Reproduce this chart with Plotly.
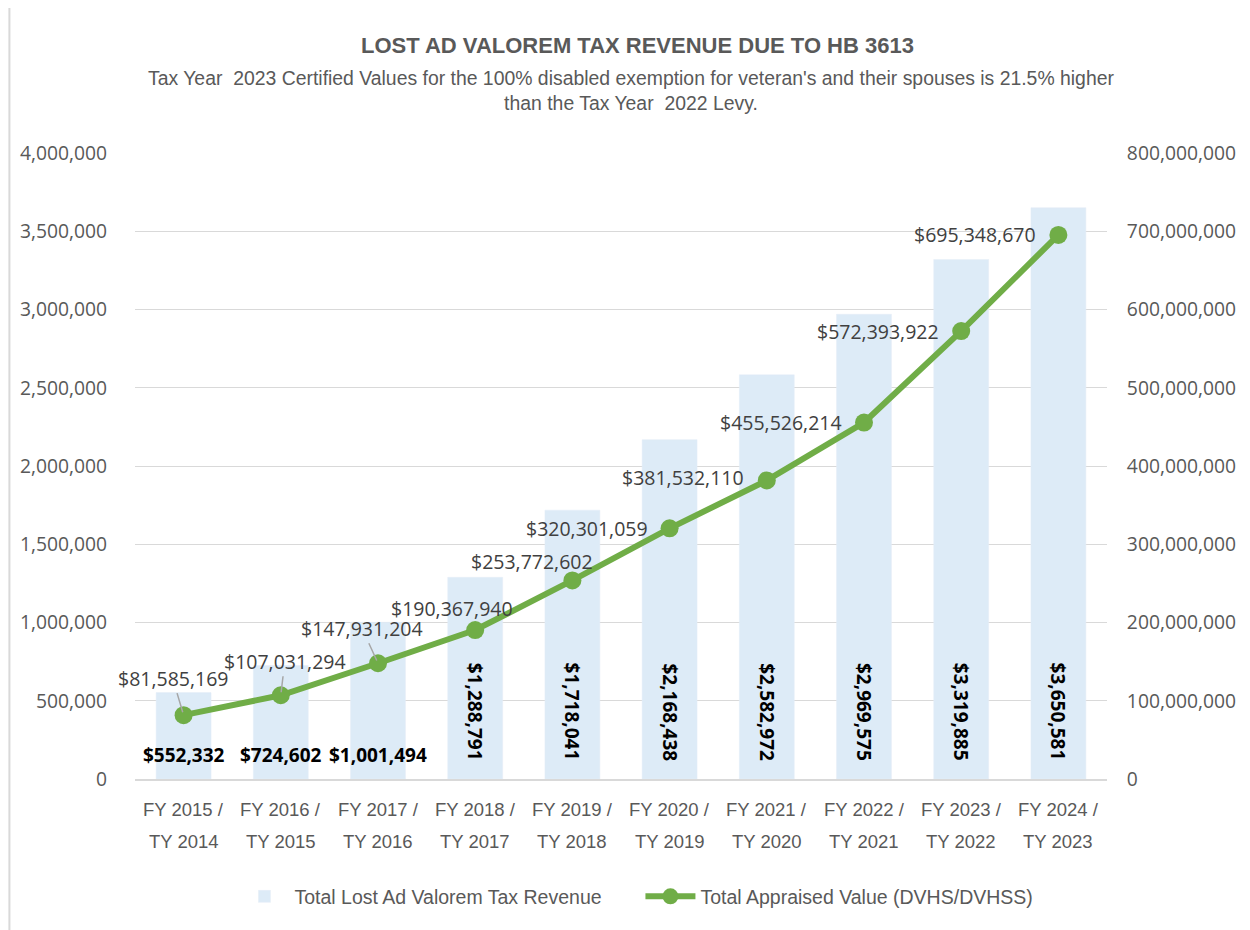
import plotly.graph_objects as go

categories = ["FY 2015 /<br>TY 2014", "FY 2016 /<br>TY 2015", "FY 2017 /<br>TY 2016",
              "FY 2018 /<br>TY 2017", "FY 2019 /<br>TY 2018", "FY 2020 /<br>TY 2019",
              "FY 2021 /<br>TY 2020", "FY 2022 /<br>TY 2021", "FY 2023 /<br>TY 2022",
              "FY 2024 /<br>TY 2023"]
lost_revenue = [552332, 724602, 1001494, 1288791, 1718041, 2168438, 2582972, 2969575, 3319885, 3650581]
appraised_value = [81585169, 107031294, 147931204, 190367940, 253772602, 320301059,
                   381532110, 455526214, 572393922, 695348670]
bar_name = "Total Lost Ad Valorem Tax Revenue"
line_name = "Total Appraised Value (DVHS/DVHSS)"
title_text = "LOST AD VALOREM TAX REVENUE DUE TO HB 3613"
subtitle_text = ("Tax Year  2023 Certified Values for the 100% disabled exemption for veteran's and their spouses is 21.5% higher"
                 "<br>than the Tax Year  2022 Levy.")

NARROW = "Liberation Sans Narrow, Arial Narrow, Liberation Sans, Arial, sans-serif"
NORMAL = "Open Sans, Noto Sans, sans-serif"
GRAY = "#595959"

x = list(range(len(categories)))

fig = go.Figure()
fig.add_trace(go.Bar(x=x, y=lost_revenue, name=bar_name, marker_color="#DDEBF7",
                     width=0.565, yaxis="y"))
fig.add_trace(go.Scatter(x=x, y=appraised_value, name=line_name, mode="lines+markers",
                         line=dict(color="#70AD47", width=6),
                         marker=dict(color="#70AD47", size=18), yaxis="y2"))

annotations = []
# category labels (two lines each)
for i, c in enumerate(categories):
    first, second = c.split("<br>")
    annotations.append(dict(x=i, y=-0.0495, xref="x", yref="paper", text=first, showarrow=False,
                            xanchor="center", yanchor="middle",
                            font=dict(family=NARROW, size=18.5, color=GRAY)))
    annotations.append(dict(x=i, y=-0.1006, xref="x", yref="paper", text=second, showarrow=False,
                            xanchor="center", yanchor="middle",
                            font=dict(family=NARROW, size=18.5, color=GRAY)))

# bar labels
for i, v in enumerate(lost_revenue):
    txt = "<b>${:,}</b>".format(v)
    if i < 3:
        annotations.append(dict(x=i, y=0, xref="x", yref="y", text=txt, showarrow=False,
                                yanchor="middle", yshift=24,
                                font=dict(family=NORMAL, size=19, color="#000000")))
    else:
        annotations.append(dict(x=i, y=0, xref="x", yref="y", text=txt, showarrow=False,
                                textangle=90, yanchor="bottom", yshift=16,
                                font=dict(family=NORMAL, size=19, color="#000000")))

# line labels (pixel offsets of label centre from point)
label_offsets = [(-11, -37), (4, -34), (-16, -35), (-23, -22), (-40, -19),
                 (-83, 0), (-84, -3), (-83, 0), (-83, 0), (-83, 0)]
for i, v in enumerate(appraised_value):
    dx, dy = label_offsets[i]
    txt = "${:,}".format(v)
    if i < 3:
        annotations.append(dict(x=i, y=v, xref="x", yref="y2", text=txt, showarrow=True,
                                ax=dx, ay=dy, arrowhead=0, arrowwidth=1.5, arrowcolor="#A6A6A6",
                                standoff=3,
                                font=dict(family=NORMAL, size=19.5, color="#404040")))
    else:
        annotations.append(dict(x=i, y=v, xref="x", yref="y2", text=txt, showarrow=False,
                                xshift=dx, yshift=-dy,
                                font=dict(family=NORMAL, size=19.5, color="#404040")))

annotations.append(dict(x=0.517, y=1.171, xref="paper", yref="paper", text="<b>" + title_text + "</b>",
                        showarrow=False, xanchor="center", yanchor="middle",
                        font=dict(family=NARROW, size=22, color=GRAY)))
annotations.append(dict(x=0.510, y=1.100, xref="paper", yref="paper", text=subtitle_text,
                        showarrow=False, xanchor="center", yanchor="middle",
                        font=dict(family=NARROW, size=19.4, color=GRAY)))

fig.update_layout(
    width=1250, height=930,
    margin=dict(l=125, r=151, t=145, b=159),
    paper_bgcolor="white", plot_bgcolor="white",
    showlegend=True,
    legend=dict(orientation="h", x=0.520, xanchor="center", y=-0.188, yanchor="middle",
                font=dict(family=NARROW, size=19.5, color=GRAY), itemwidth=50,
                entrywidth=341, entrywidthmode="pixels",
                bgcolor="rgba(0,0,0,0)"),
    xaxis=dict(tickmode="array", tickvals=x, ticktext=categories, range=[-0.5, 9.5],
               showticklabels=False,
               showline=True, linecolor="#D9D9D9", linewidth=1.5, ticks="", showgrid=False),
    yaxis=dict(range=[0, 4000000], dtick=500000, tickformat=",", showgrid=True,
               gridcolor="#D9D9D9", gridwidth=1.3, zeroline=False,
               ticks="outside", ticklen=23, tickcolor="rgba(0,0,0,0)",
               tickfont=dict(family=NORMAL, size=19.3, color=GRAY)),
    yaxis2=dict(range=[0, 800000000], dtick=100000000, tickformat=",", overlaying="y",
                side="right", showgrid=False, zeroline=False,
                ticks="outside", ticklen=15, tickcolor="rgba(0,0,0,0)",
                tickfont=dict(family=NORMAL, size=19.3, color=GRAY)),
    annotations=annotations,
    shapes=[dict(type="rect", xref="paper", yref="paper", x0=-0.1292, x1=1.16, y0=-0.26, y1=1.2348,
                 line=dict(color="#D9D9D9", width=2), fillcolor="rgba(0,0,0,0)", layer="below")],
)

fig.write_html("out.html")
